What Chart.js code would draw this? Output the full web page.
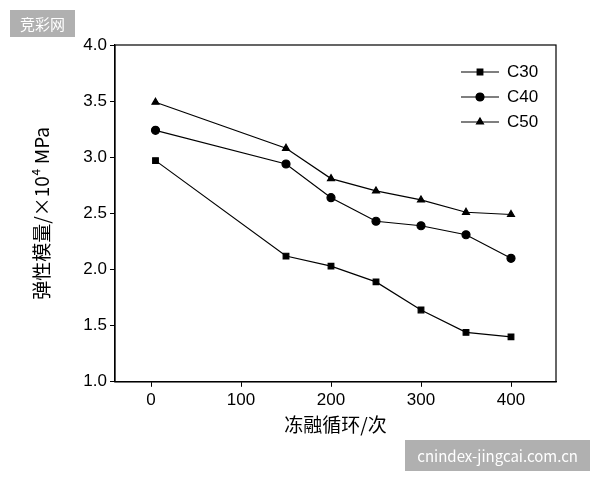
<!DOCTYPE html>
<html><head><meta charset="utf-8">
<script src="https://cdn.jsdelivr.net/npm/chart.js@4"></script>
<style>
body{margin:0;background:#fff}
#wrap{position:relative;width:600px;height:480px}
.wm{position:absolute;background:rgba(150,150,150,0.75);color:#fff;font-family:"Noto Sans CJK SC","Noto Sans";}
</style></head><body>
<div id="wrap"><canvas id="c" width="600" height="480"></canvas>
<div class="wm" style="left:10px;top:10px;padding:3px 10px;font-size:15px">竞彩网</div>
<div class="wm" style="right:10px;top:440px;padding:5px 12px;font-size:15px">cnindex-jingcai.com.cn</div>
</div>
<script>
const cycles = [5, 150, 200, 250, 300, 350, 400];
const c30 = [2.97, 2.12, 2.03, 1.89, 1.64, 1.44, 1.40];
const c40 = [3.24, 2.94, 2.64, 2.43, 2.39, 2.31, 2.10];
const c50 = [3.49, 3.08, 2.81, 2.70, 2.62, 2.51, 2.49];

function series(label, vals, style) {
  return {
    label: label,
    data: cycles.map((x, i) => ({x: x, y: vals[i]})),
    borderColor: '#000', backgroundColor: '#000', borderWidth: 1.2,
    pointStyle: style, pointRadius: 4, tension: 0
  };
}
const font = {family: 'Liberation Sans', size: 17};
new Chart(document.getElementById('c'), {
  type: 'line',
  data: {datasets: [series('C30', c30, 'rect'), series('C40', c40, 'circle'), series('C50', c50, 'triangle')]},
  options: {
    responsive: false, animation: false,
    layout: {padding: {top: 45, right: 44, bottom: 44, left: 30}},
    plugins: {legend: {display: false}, tooltip: {enabled: false}},
    scales: {
      x: {
        type: 'linear', min: -40, max: 450,
        afterBuildTicks: a => { a.ticks = [0, 100, 200, 300, 400].map(v => ({value: v})); },
        grid: {drawOnChartArea: false, color: '#000', tickLength: 5},
        border: {color: '#000', width: 1.2},
        ticks: {color: '#000', font: font},
        title: {display: true, text: '冻融循环/次', color: '#000', font: {family: 'Noto Sans CJK SC', size: 19}, padding: 0}
      },
      y: {
        min: 1.0, max: 4.0,
        afterFit: a => { a.width = 85; },
        grid: {drawOnChartArea: false, color: '#000', tickLength: 5},
        border: {color: '#000', width: 1.2},
        ticks: {stepSize: 0.5, color: '#000', font: font, callback: v => v.toFixed(1)},
        title: {display: true, text: '弹性模量/×10⁴ MPa', color: '#000', font: {family: 'Noto Sans CJK SC', size: 19}, padding: 0}
      }
    }
  },
  plugins: [{
    id: 'frame',
    afterDraw(ch) {
      const {ctx, chartArea: a} = ch;
      ctx.save(); ctx.strokeStyle = '#000'; ctx.fillStyle = '#000'; ctx.lineWidth = 1.2;
      ctx.strokeRect(a.left, a.top, a.right - a.left, a.bottom - a.top);
      ch.data.datasets.forEach((d, i) => {
        const y = a.top + 27 + i * 25, x0 = a.right - 95;
        ctx.beginPath(); ctx.moveTo(x0, y); ctx.lineTo(x0 + 38, y); ctx.stroke();
        Chart.helpers.drawPoint(ctx, {pointStyle: d.pointStyle, radius: 4, borderWidth: 1}, x0 + 19, y);
        ctx.fill();
        ctx.font = '17px Liberation Sans'; ctx.textBaseline = 'middle';
        ctx.fillText(d.label, x0 + 46, y);
      });
      ctx.restore();
    }
  }]
});
</script></body></html>
